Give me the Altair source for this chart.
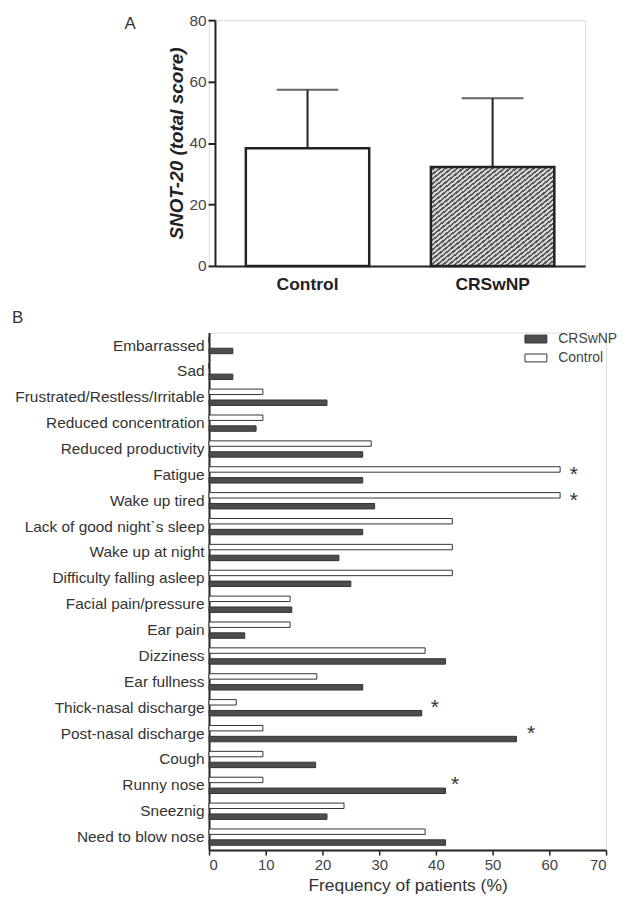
import altair as alt
import pandas as pd

FONT = "Liberation Sans"

# ---------------- Panel A data ----------------
groups_a = ["Control", "CRSwNP"]
snot_mean = [38.3, 32.2]
snot_err_top = [57.3, 54.6]
y_ticks_a = [0, 20, 40, 60, 80]

# ---------------- Panel B data ----------------
symptoms = [
    "Embarrassed", "Sad", "Frustrated/Restless/Irritable", "Reduced concentration",
    "Reduced productivity", "Fatigue", "Wake up tired", "Lack of good night`s sleep",
    "Wake up at night", "Difficulty falling asleep", "Facial pain/pressure", "Ear pain",
    "Dizziness", "Ear fullness", "Thick-nasal discharge", "Post-nasal discharge",
    "Cough", "Runny nose", "Sneeznig", "Need to blow nose",
]
control_pct = [0, 0, 9.5, 9.5, 28.6, 61.9, 61.9, 42.9, 42.9, 42.9,
               14.3, 14.3, 38.1, 19.0, 4.8, 9.5, 9.5, 9.5, 23.8, 38.1]
crswnp_pct = [4.2, 4.2, 20.8, 8.3, 27.1, 27.1, 29.2, 27.1, 22.9, 25.0,
              14.6, 6.3, 41.7, 27.1, 37.5, 54.2, 18.8, 41.7, 20.8, 41.7]
sig_symptoms = ["Fatigue", "Wake up tired", "Thick-nasal discharge",
                "Post-nasal discharge", "Runny nose"]
sig_pos = [64.3, 64.3, 39.8, 56.8, 43.4]
x_ticks_b = [0, 10, 20, 30, 40, 50, 60, 70]
series_order = ["Control", "CRSwNP"]
legend_order = ["CRSwNP", "Control"]

# ---------------- hatch-like gradient for panel A ----------------
n_stripes = 42
stops = []
for k in range(n_stripes):
    a = k / n_stripes
    b = (k + 0.55) / n_stripes
    c = (k + 1) / n_stripes
    stops += [
        {"offset": a, "color": "#d4d4d4"},
        {"offset": b, "color": "#d4d4d4"},
        {"offset": b, "color": "#5a5a5a"},
        {"offset": c, "color": "#5a5a5a"},
    ]
hatch = {"gradient": "linear", "x1": 0, "y1": 0, "x2": 1, "y2": 1, "stops": stops}

# ---------------- Panel A ----------------
df_a = pd.DataFrame({"group": groups_a, "mean": snot_mean, "top": snot_err_top})

x_a = alt.X(
    "group:N", sort=groups_a,
    scale=alt.Scale(range=[6, 378], paddingInner=0, paddingOuter=0),
    axis=alt.Axis(title=None, labelFont=FONT, labelFontSize=17.5, labelFontWeight="bold",
                  labelColor="#222", labelAngle=0, ticks=False, labelPadding=10,
                  domainColor="#222", domainWidth=2),
)
y_a = alt.Y(
    "mean:Q", scale=alt.Scale(domain=[0, 80], nice=False),
    axis=alt.Axis(values=y_ticks_a, title="SNOT-20 (total score)", titleFont=FONT,
                  titleFontStyle="italic", titleFontWeight="bold", titleFontSize=19,
                  titleColor="#222", titlePadding=2, labelFont=FONT, labelFontSize=15.5,
                  labelColor="#444", tickSize=7, tickColor="#222", tickWidth=2,
                  domainColor="#222", domainWidth=2, labelPadding=2, offset=-6, grid=False),
)

base_a = alt.Chart(df_a)
bar_ctrl = base_a.transform_filter(alt.datum.group == "Control").mark_bar(
    size=124, fill="white", stroke="#222", strokeWidth=2.5
).encode(x=x_a, y=y_a)
bar_crs = base_a.transform_filter(alt.datum.group == "CRSwNP").mark_bar(
    size=124, fill=hatch, stroke="#222", strokeWidth=2.5
).encode(x=x_a, y=y_a)
err_rule = base_a.mark_rule(color="#222", strokeWidth=2).encode(
    x=x_a, y="mean:Q", y2="top:Q"
)
err_cap = base_a.mark_tick(size=62, thickness=2, color="#222", orient="horizontal").encode(
    x=x_a, y="top:Q"
)
label_a = alt.Chart(pd.DataFrame({"t": ["A"]})).mark_text(
    font=FONT, fontSize=17, color="#333", align="left", baseline="middle"
).encode(text="t:N", x=alt.value(-85), y=alt.value(4))

chart_a = alt.layer(err_rule, err_cap, bar_ctrl, bar_crs, label_a).properties(
    width=378, height=247
)

# ---------------- Panel B ----------------
rows = []
for s, c, r in zip(symptoms, control_pct, crswnp_pct):
    rows.append({"symptom": s, "series": "Control", "value": c})
    rows.append({"symptom": s, "series": "CRSwNP", "value": r})
df_b = pd.DataFrame(rows)
df_sig = pd.DataFrame({"symptom": sig_symptoms, "pos": sig_pos})

y_b = alt.Y(
    "symptom:N", sort=symptoms,
    scale=alt.Scale(paddingInner=0.37, paddingOuter=0.185),
    axis=alt.Axis(title=None, labelFont=FONT, labelFontSize=15.5, labelColor="#333",
                  ticks=False, labelPadding=5, domainColor="#222", domainWidth=2,
                  labelLimit=400),
)
x_b = alt.X(
    "value:Q", scale=alt.Scale(domain=[0, 70], nice=False),
    axis=alt.Axis(values=x_ticks_b, title="Frequency of patients (%)", titleFont=FONT,
                  titleFontSize=17.5, titleFontWeight="normal", titleColor="#333",
                  titlePadding=4, labelFont=FONT, labelFontSize=15, labelColor="#444",
                  tickSize=5, tickColor="#222", tickWidth=1.5, domainColor="#222",
                  domainWidth=2, grid=False, labelPadding=3),
)

bars_b = alt.Chart(df_b).mark_bar(stroke="#333", strokeWidth=1).encode(
    y=y_b,
    yOffset=alt.YOffset("series:N", sort=series_order,
                        scale=alt.Scale(paddingInner=0.5, paddingOuter=0)),
    x=x_b,
    fill=alt.Fill(
        "series:N",
        scale=alt.Scale(domain=legend_order, range=["#4d4d4d", "#ffffff"]),
        legend=alt.Legend(title=None, orient="none", legendX=317, legendY=309,
                          symbolType="M-1,-0.36H1V0.36H-1Z", symbolSize=484,
                          symbolStrokeColor="#333", symbolStrokeWidth=1,
                          labelFont=FONT, labelFontSize=14, labelColor="#444",
                          labelOffset=11, rowPadding=-6),
    ),
)
stars = alt.Chart(df_sig).mark_text(
    text="*", font=FONT, fontSize=21, color="#333", baseline="middle", align="center"
).encode(y=alt.Y("symptom:N", sort=symptoms), x="pos:Q")
label_b = alt.Chart(pd.DataFrame({"t": ["B"]})).mark_text(
    font=FONT, fontSize=17, color="#333", align="left", baseline="middle"
).encode(text="t:N", x=alt.value(-198), y=alt.value(-15))

chart_b = alt.layer(bars_b, stars, label_b).properties(width=399, height=520)

chart = alt.vconcat(chart_a, chart_b, spacing=67, bounds="flush").properties(
    padding={"left": 3, "top": 2, "right": 0, "bottom": 0}
).configure_view(stroke=None).configure(font=FONT)

chart.save("out.html", embed_options={"renderer": "svg", "actions": False})
